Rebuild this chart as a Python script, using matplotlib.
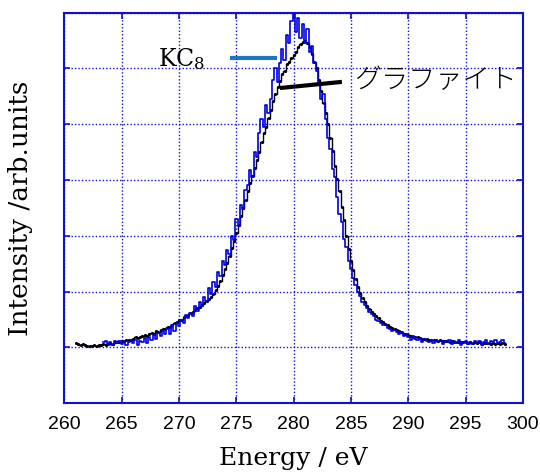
import numpy as np
import matplotlib
matplotlib.use("Agg")
import matplotlib.pyplot as plt

plt.rcParams["mathtext.fontset"] = "dejavuserif"

# Energy grids (eV), 0.2 eV sampling
energy_graphite = np.round(np.linspace(261.0, 298.4, 188), 1)
energy_kc8 = np.round(np.linspace(263.4, 298.4, 176), 1)

# Graphite spectrum (arb. units), one row per eV
intensity_graphite = [
    1.08, 1.07, 1.05, 1.06, 1.04,
    1.03, 1.02, 1.03, 1.04, 1.03,
    1.05, 1.04, 1.06, 1.05, 1.07,
    1.08, 1.07, 1.09, 1.10, 1.09,
    1.12, 1.11, 1.13, 1.14, 1.13,
    1.16, 1.18, 1.17, 1.19, 1.20,
    1.22, 1.21, 1.24, 1.26, 1.25,
    1.29, 1.28, 1.31, 1.33, 1.34,
    1.37, 1.36, 1.40, 1.43, 1.45,
    1.49, 1.50, 1.54, 1.56, 1.59,
    1.62, 1.64, 1.67, 1.70, 1.73,
    1.76, 1.79, 1.83, 1.87, 1.90,
    1.96, 2.03, 2.10, 2.20, 2.30,
    2.40, 2.52, 2.64, 2.78, 2.90,
    3.05, 3.20, 3.36, 3.50, 3.64,
    3.80, 3.94, 4.08, 4.22, 4.36,
    4.50, 4.68, 4.84, 4.96, 5.12,
    5.25, 5.42, 5.55, 5.66, 5.78,
    5.90, 5.96, 6.08, 6.12, 6.18,
    6.25, 6.30, 6.38, 6.44, 6.48,
    6.50, 6.45, 6.38, 6.26, 6.12,
    6.00, 5.80, 5.60, 5.38, 5.20,
    5.00, 4.76, 4.52, 4.26, 4.02,
    3.80, 3.52, 3.28, 3.00, 2.76,
    2.55, 2.38, 2.22, 2.08, 1.97,
    1.88, 1.81, 1.75, 1.69, 1.64,
    1.60, 1.56, 1.52, 1.48, 1.45,
    1.42, 1.40, 1.37, 1.35, 1.33,
    1.32, 1.29, 1.27, 1.25, 1.24,
    1.22, 1.21, 1.19, 1.18, 1.18,
    1.17, 1.16, 1.16, 1.15, 1.14,
    1.14, 1.13, 1.13, 1.12, 1.13,
    1.12, 1.11, 1.12, 1.10, 1.11,
    1.10, 1.09, 1.10, 1.09, 1.10,
    1.09, 1.08, 1.09, 1.08, 1.09,
    1.08, 1.09, 1.07, 1.08, 1.08,
    1.08, 1.07, 1.08, 1.07, 1.08,
    1.07, 1.08, 1.07,
]

# KC8 spectrum (arb. units), one row per eV
intensity_kc8 = [
    1.09, 1.12, 1.07,
    1.10, 1.05, 1.12, 1.08, 1.11,
    1.06, 1.12, 1.04, 1.10, 1.13,
    1.08, 1.14, 1.05, 1.12, 1.10,
    1.17, 1.08, 1.19, 1.13, 1.22,
    1.16, 1.26, 1.20, 1.30, 1.24,
    1.34, 1.25, 1.40, 1.30, 1.44,
    1.38, 1.50, 1.44, 1.58, 1.52,
    1.62, 1.56, 1.74, 1.66, 1.82,
    1.74, 1.90, 1.84, 2.06, 1.96,
    2.18, 2.08, 2.36, 2.28, 2.55,
    2.48, 2.75, 2.68, 3.00, 2.92,
    3.30, 3.18, 3.55, 3.48, 3.82,
    3.92, 4.18, 4.05, 4.50, 4.42,
    4.85, 5.10, 4.95, 5.35, 5.20,
    5.45, 5.80, 6.00, 5.75, 6.10,
    6.35, 6.15, 6.60, 6.45, 6.85,
    6.98, 6.65, 6.90, 6.55, 6.80,
    6.45, 6.70, 6.30, 6.40, 6.10,
    5.95, 5.70, 5.45, 5.55, 5.10,
    4.75, 4.55, 4.20, 4.05, 3.70,
    3.40, 3.25, 2.95, 2.80, 2.55,
    2.40, 2.25, 2.12, 2.00, 1.92,
    1.82, 1.76, 1.70, 1.64, 1.60,
    1.56, 1.50, 1.48, 1.44, 1.40,
    1.40, 1.35, 1.33, 1.30, 1.32,
    1.28, 1.24, 1.27, 1.20, 1.24,
    1.19, 1.14, 1.20, 1.16, 1.13,
    1.17, 1.10, 1.15, 1.12, 1.09,
    1.13, 1.08, 1.14, 1.10, 1.12,
    1.07, 1.12, 1.09, 1.13, 1.06,
    1.11, 1.08, 1.13, 1.05, 1.10,
    1.12, 1.07, 1.10, 1.06, 1.12,
    1.08, 1.11, 1.05, 1.10, 1.13,
    1.07, 1.11, 1.09, 1.14, 1.08,
    1.10, 1.13, 1.08,
]

x_ticks = [260, 265, 270, 275, 280, 285, 290, 295, 300]
label_kc8 = "KC$_8$"
label_graphite = "グラファイト"

axis_blue = "#1010d0"

fig = plt.figure(figsize=(5.40, 4.72), dpi=100)
ax = fig.add_axes([0.1194, 0.1456, 0.8491, 0.8275])

ax.plot(energy_graphite, intensity_graphite, color="black", lw=1.0,
        drawstyle="steps-mid", marker=".", markersize=2.5, zorder=3)
ax.plot(energy_kc8, intensity_kc8, color="#0000e0", lw=1.2,
        drawstyle="steps-mid", zorder=4)

ax.set_xlim(260, 300)
ax.set_ylim(0, 7)
ax.set_xticks(x_ticks)
ax.set_yticks(range(0, 8))
ax.set_yticklabels([])
ax.tick_params(axis="both", direction="in", color=axis_blue, length=4,
               width=1.2, top=True, right=True)
ax.tick_params(axis="x", labelsize=14, pad=9)
for lbl in ax.get_xticklabels():
    lbl.set_family("Liberation Sans")

for sp in ax.spines.values():
    sp.set_color(axis_blue)
    sp.set_linewidth(1.5)

ax.grid(True, color=axis_blue, linestyle=(0, (1, 1.5)), linewidth=1.0)
ax.set_axisbelow(True)

ax.set_xlabel("Energy / eV", family="DejaVu Serif", fontsize=18, labelpad=10)
ax.set_ylabel("Intensity /arb.units", family="DejaVu Serif", fontsize=19,
              labelpad=19)

# Annotation leaders and labels
ax.plot([274.4, 278.5], [6.19, 6.19], color="#1a78c2", lw=3, zorder=5,
        solid_capstyle="butt")
ax.text(272.3, 6.05, label_kc8, family="DejaVu Serif", fontsize=17,
        ha="right", va="baseline", zorder=6)
ax.plot([278.8, 284.2], [5.65, 5.76], color="black", lw=3, zorder=5,
        solid_capstyle="butt")
ax.text(285.3, 5.79, label_graphite, family=["Noto Sans CJK JP", "DejaVu Sans"],
        fontsize=19.5, fontweight="light", ha="left", va="center", zorder=6)

fig.savefig("out.png", dpi=100)
